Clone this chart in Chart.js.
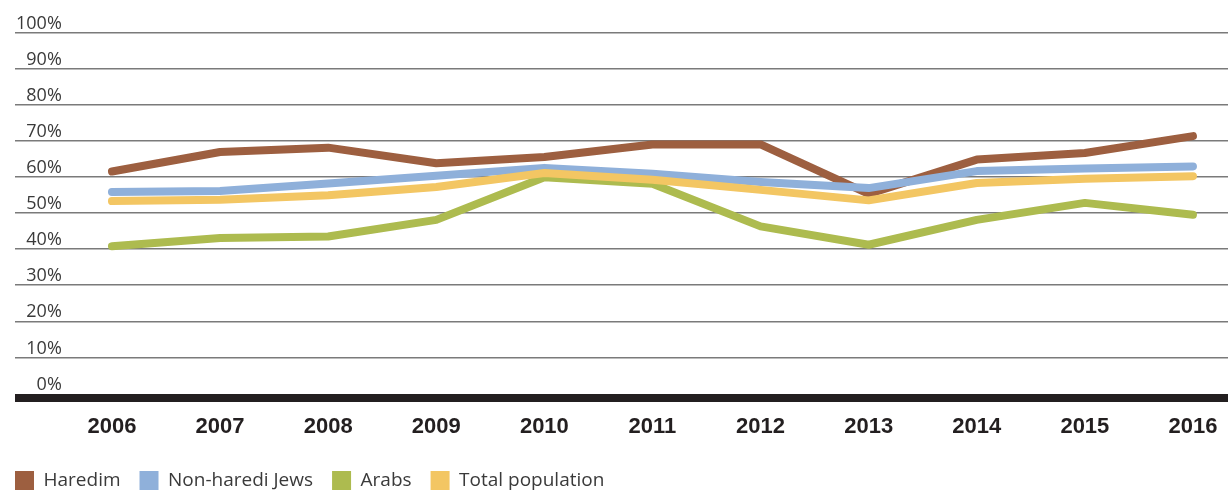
<!DOCTYPE html>
<html>
<head>
<meta charset="utf-8">
<script src="https://cdn.jsdelivr.net/npm/chart.js@4"></script>
<style>
  html, body { margin: 0; padding: 0; background: #fff; }
  #wrap { width: 1228px; height: 495px; position: relative; }
</style>
</head>
<body>
<div id="wrap"><canvas id="c"></canvas></div>
<script>
const years = [2006, 2007, 2008, 2009, 2010, 2011, 2012, 2013, 2014, 2015, 2016];
const yTicks = [0, 10, 20, 30, 40, 50, 60, 70, 80, 90, 100];
const seriesNames = ['Haredim', 'Non-haredi Jews', 'Arabs', 'Total population'];
const haredim  = [61.5, 66.9, 68.1, 63.8, 65.5, 69.0, 69.0, 55.3, 64.8, 66.6, 71.3];
const nonHaredi = [55.8, 56.1, 58.2, 60.3, 62.5, 60.9, 58.6, 56.9, 61.6, 62.3, 62.9];
const arabs    = [40.8, 43.1, 43.5, 48.1, 59.9, 58.1, 46.3, 41.2, 48.1, 52.8, 49.5];
const total    = [53.3, 53.7, 54.9, 57.2, 61.1, 59.2, 56.4, 53.5, 58.3, 59.5, 60.2];
const colors = ['#9d5f40', '#8fb0da', '#adbb4f', '#f3c663'];

const seriesValues = [haredim, nonHaredi, arabs, total];
const drawOrder = [3, 2, 1, 0];
const baseValue = -1.111; // position of the heavy baseline bar

const datasets = seriesValues.map((vals, i) => ({
  label: seriesNames[i],
  data: years.map((yr, j) => ({ x: yr, y: vals[j] })),
  borderColor: colors[i],
  backgroundColor: colors[i],
  borderWidth: 8,
  borderCapStyle: 'round',
  borderJoinStyle: 'round',
  pointRadius: 0,
  pointHoverRadius: 0,
  tension: 0,
  fill: false,
  order: drawOrder[i]
}));

new Chart(document.getElementById('c'), {
  type: 'line',
  data: { datasets },
  options: {
    responsive: true,
    maintainAspectRatio: false,
    animation: false,
    events: [],
    layout: { padding: { left: -4, right: 0, top: 32.5, bottom: -5 } },
    scales: {
      x: {
        type: 'linear',
        min: 2005.103,
        max: 2016.324,
        afterBuildTicks: (scale) => { scale.ticks = years.map(v => ({ value: v })); },
        afterFit: (scale) => { scale.height = 54.5; scale.paddingLeft = 0; scale.paddingRight = 0; },
        grid: { display: false, drawTicks: false },
        border: { display: false },
        ticks: {
          padding: 16,
          color: '#231f20',
          font: { family: '"Liberation Sans Narrow", "Liberation Sans", sans-serif', size: 22, weight: 'bold' },
          callback: (v) => String(v),
          maxRotation: 0,
          autoSkip: false
        }
      },
      y: {
        min: baseValue,
        max: 100,
        afterBuildTicks: (scale) => { scale.ticks = [baseValue].concat(yTicks).map(v => ({ value: v })); },
        afterFit: (scale) => { scale.width = 19; },
        grid: {
          color: (ctx) => ctx.tick && ctx.tick.value === baseValue ? '#231f20' : (ctx.tick && ctx.tick.value === 0 ? 'rgba(0,0,0,0)' : '#7a7a7a'),
          lineWidth: (ctx) => ctx.tick && ctx.tick.value === baseValue ? 8 : 1.5,
          drawTicks: false
        },
        border: { display: false },
        ticks: {
          mirror: true,
          crossAlign: 'far',
          padding: 1,
          labelOffset: -9,
          color: '#3a3a3a',
          font: { family: '"Open Sans", sans-serif', size: 18 },
          callback: (v) => v < 0 ? '' : v + '%'
        }
      }
    },
    plugins: {
      tooltip: { enabled: false },
      legend: {
        position: 'bottom',
        align: 'start',
        labels: {
          boxWidth: 19,
          boxHeight: 19,
          padding: 19,
          color: '#3a3a3a',
          font: { family: '"Open Sans", sans-serif', size: 19 },
          sort: (a, b) => a.datasetIndex - b.datasetIndex,
          generateLabels: (chart) => Chart.defaults.plugins.legend.labels.generateLabels(chart).map(l => ({ ...l, lineWidth: 0, strokeStyle: l.fillStyle }))
        }
      }
    }
  }
});
</script>
</body>
</html>
